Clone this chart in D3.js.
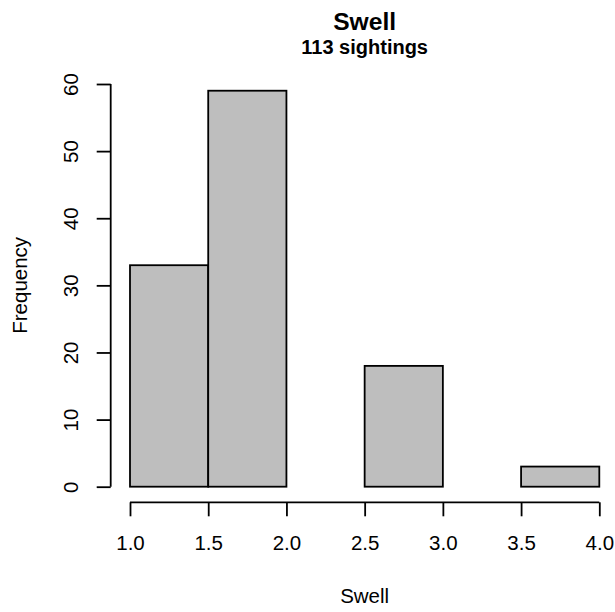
<!DOCTYPE html>
<html>
<head>
<meta charset="utf-8">
<script src="https://cdn.jsdelivr.net/npm/d3@7"></script>
<style>
body { margin: 0; background: #fff; }
text { font-family: "Liberation Sans", Arial, sans-serif; fill: #000; }
</style>
</head>
<body>
<div class="container"></div>
<script>
// histogram bins of swell (bin start, bin end, count)
const binStarts = [1.0, 1.5, 2.0, 2.5, 3.0, 3.5];
const binEnds = [1.5, 2.0, 2.5, 3.0, 3.5, 4.0];
const counts = [33, 59, 0, 18, 0, 3];
const xTicks = [1.0, 1.5, 2.0, 2.5, 3.0, 3.5, 4.0];
const yTicks = [0, 10, 20, 30, 40, 50, 60];

let width = 615;
let height = 612;
let labelSize = '20.5px';
let lw = 1.8;

const svg = d3.select('.container')
    .append('svg')
    .attr('width', width)
    .attr('height', height);

let x = d3.scaleLinear().domain([1, 4]).range([130, 599.3]);
let y = d3.scaleLinear().domain([0, 60]).range([486.7, 84]);

let bins = binStarts.map((s, i) => ({x0: s, x1: binEnds[i], n: counts[i]}));

// bars
svg.selectAll('rect.bar')
    .data(bins)
    .enter()
    .append('rect')
    .attr('class', 'bar')
    .attr('x', d => x(d.x0))
    .attr('width', d => x(d.x1) - x(d.x0))
    .attr('y', d => y(d.n))
    .attr('height', d => y(0) - y(d.n))
    .attr('fill', '#bebebe')
    .attr('stroke', '#000')
    .attr('stroke-width', lw);

// x axis
let xAxis = svg.append('g')
    .attr('transform', 'translate(0,502.3)')
    .call(d3.axisBottom(x).tickValues(xTicks).tickFormat(d3.format('.1f')).tickSize(14));
xAxis.select('.domain').attr('stroke-width', lw).attr('d', 'M' + x(1) + ',0H' + x(4));
xAxis.selectAll('.tick line').attr('stroke-width', lw);
xAxis.selectAll('text')
    .attr('y', 47.7).attr('dy', null)
    .style('font-size', labelSize)
    .style('font-family', '"Liberation Sans", Arial, sans-serif');

// y axis
let yAxis = svg.append('g')
    .attr('transform', 'translate(110.7,0)')
    .call(d3.axisLeft(y).tickValues(yTicks).tickSize(14));
yAxis.select('.domain').attr('stroke-width', lw).attr('d', 'M0,' + y(0) + 'V' + y(60));
yAxis.selectAll('.tick line').attr('stroke-width', lw);
yAxis.selectAll('text')
    .attr('x', null).attr('dy', null)
    .attr('text-anchor', 'middle')
    .attr('transform', 'translate(-32.7,0) rotate(-90)')
    .style('font-size', labelSize)
    .style('font-family', '"Liberation Sans", Arial, sans-serif');

// titles
svg.append('text')
    .attr('x', x(2.5)).attr('y', 30)
    .attr('text-anchor', 'middle')
    .style('font-size', '24.6px').style('font-weight', 'bold')
    .text('Swell');
svg.append('text')
    .attr('x', x(2.5)).attr('y', 54)
    .attr('text-anchor', 'middle')
    .style('font-size', '20px').style('font-weight', 'bold')
    .text('113 sightings');

svg.append('text')
    .attr('x', x(2.5)).attr('y', 602.7)
    .attr('text-anchor', 'middle')
    .style('font-size', labelSize)
    .text('Swell');
svg.append('text')
    .attr('transform', 'translate(26.5,' + y(30) + ') rotate(-90)')
    .attr('text-anchor', 'middle')
    .style('font-size', labelSize)
    .text('Frequency');
</script>
</body>
</html>
